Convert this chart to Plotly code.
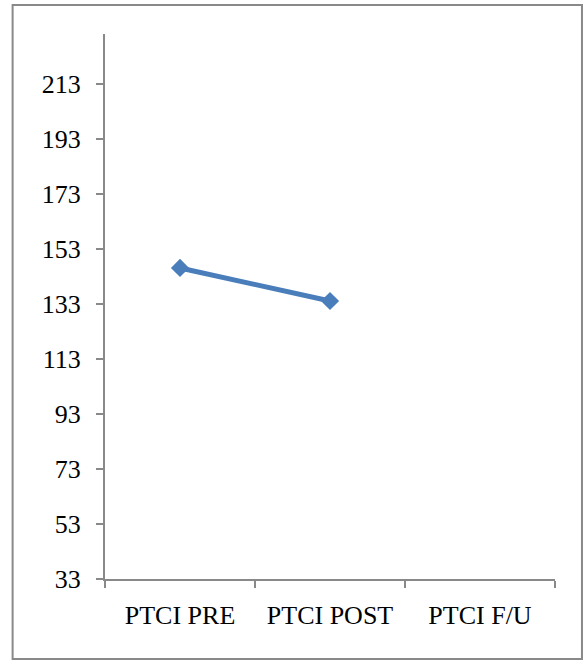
import plotly.graph_objects as go

categories = ["PTCI PRE", "PTCI POST", "PTCI F/U"]
ptci_values = [146, 134, None]
y_tick_values = [33, 53, 73, 93, 113, 133, 153, 173, 193, 213]

W, H = 584, 662
L, R, T, B = 104.5, 29, 34, 83
pw, ph = W - L - R, H - T - B

def px_x(x):
    return (x - L) / pw

def px_y(y):
    return 1 - (y - T) / ph

axis_color = "#898989"
font_family = "Liberation Serif, Times New Roman, serif"

fig = go.Figure()
fig.add_trace(go.Scatter(
    x=categories, y=ptci_values, mode="lines+markers",
    line=dict(color="#4a7ebb", width=5),
    marker=dict(symbol="diamond", size=14, color="#4a7ebb"),
    connectgaps=False, showlegend=False,
))

fig.update_layout(
    width=W, height=H,
    margin=dict(l=L, r=R, t=T, b=B, pad=0),
    paper_bgcolor="white", plot_bgcolor="white",
    font=dict(family=font_family, size=26, color="black"),
    xaxis=dict(
        type="category", range=[-0.5, 2.5],
        showline=True, linecolor=axis_color, linewidth=2,
        ticks="outside", tickson="boundaries", ticklen=7, tickwidth=2, tickcolor=axis_color,
        showgrid=False, zeroline=False,
        ticklabelstandoff=12,
        tickfont=dict(family=font_family, size=26, color="black"),
    ),
    yaxis=dict(
        range=[33, 231], tickvals=y_tick_values,
        showline=True, linecolor=axis_color, linewidth=2,
        ticks="outside", ticklen=7, tickwidth=2, tickcolor=axis_color,
        showgrid=False, zeroline=False,
        ticklabelstandoff=10,
        tickfont=dict(family=font_family, size=26, color="black"),
    ),
    shapes=[dict(
        type="rect", xref="paper", yref="paper",
        x0=px_x(12), x1=px_x(582), y0=px_y(659), y1=px_y(5),
        line=dict(color=axis_color, width=2), fillcolor="rgba(0,0,0,0)", layer="below",
    )],
)

fig.write_html(
    "out.html",
    config={"displayModeBar": False},
    post_script="document.body.style.margin='0';",
)
